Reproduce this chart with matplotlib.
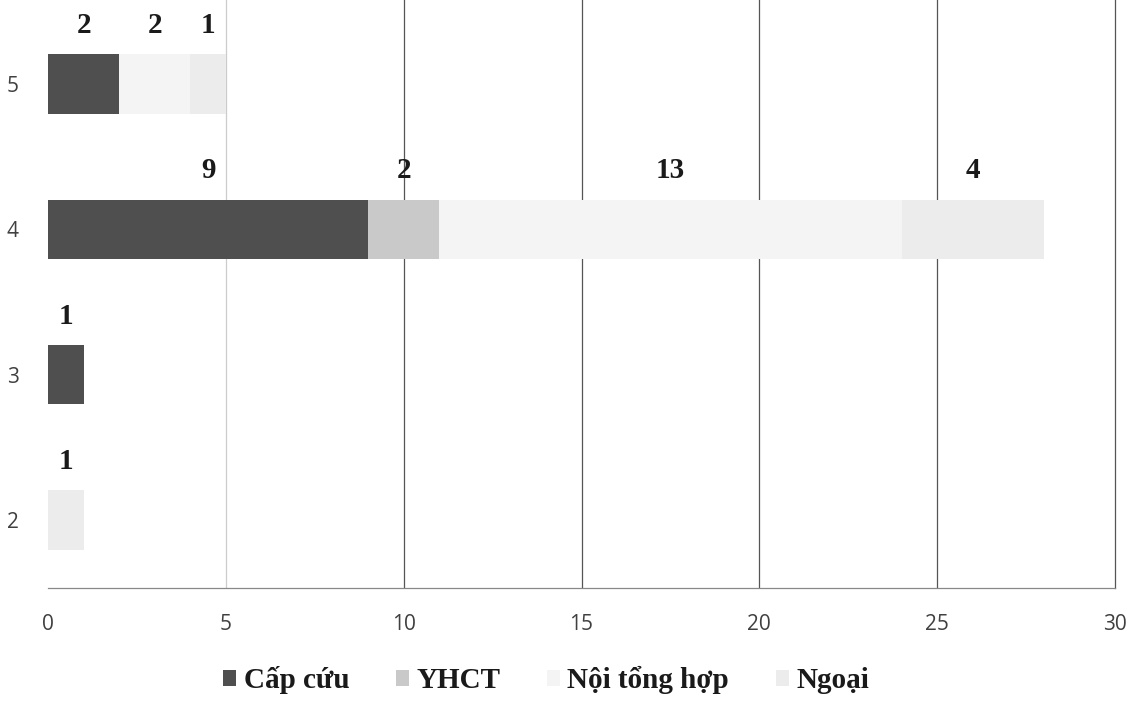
import numpy as np
import matplotlib
matplotlib.use('Agg')
import matplotlib.pyplot as plt
from matplotlib.patches import Patch

# số ca theo mức độ (2..5) và theo khoa
levels = [2, 3, 4, 5]
cap_cuu = [0, 1, 9, 2]
yhct = [0, 0, 2, 0]
noi_tong_hop = [0, 0, 13, 2]
ngoai = [1, 0, 4, 1]

series = [('Cấp cứu', cap_cuu, '#4f4f4f'),
          ('YHCT', yhct, '#c9c9c9'),
          ('Nội tổng hợp', noi_tong_hop, '#f4f4f4'),
          ('Ngoại', ngoai, '#ececec')]

fig = plt.figure(figsize=(11.35, 7.04), dpi=100)
ax = fig.add_axes([48/1135, 1 - 588/704, (1115 - 48)/1135, 588/704])

bar_h = 0.41
left = np.zeros(len(levels))
for name, vals, col in series:
    vals = np.array(vals, dtype=float)
    ax.barh(levels, vals, left=left, height=bar_h, color=col,
            edgecolor='none', label=name, zorder=2)
    for y, l, v in zip(levels, left, vals):
        if v > 0:
            ax.annotate('%d' % v, xy=(l + v / 2, y + bar_h / 2),
                        xytext=(0, 11), textcoords='offset points',
                        ha='center', va='bottom', fontsize=21,
                        fontweight='bold', family='Liberation Serif',
                        color='#1a1a1a')
    left += vals

ax.set_xlim(0, 30)
ax.set_ylim(1.532, 5.578)
ax.set_xticks([0, 5, 10, 15, 20, 25, 30])
ax.set_yticks(levels)
ax.tick_params(length=0, labelcolor='#404040')
ax.tick_params(axis='x', pad=19)
ax.tick_params(axis='y', pad=21)
for lab in ax.get_xticklabels() + ax.get_yticklabels():
    lab.set_family('Open Sans')
    lab.set_fontsize(15)

ax.grid(axis='x', color='#555555', linewidth=0.9, zorder=0)
gl = ax.get_xgridlines()
gl[0].set_visible(False)
gl[1].set_color('#cccccc')
gl[-1].set_clip_on(False)
for s in ['top', 'right', 'left']:
    ax.spines[s].set_visible(False)
ax.spines['bottom'].set_color('#888888')
ax.spines['bottom'].set_linewidth(0.9)

handles = [Patch(facecolor=c, edgecolor='none') for _, _, c in series]
fig.legend(handles, [n for n, _, _ in series], loc='center',
           bbox_to_anchor=(546/1135, 1 - 680/704), ncol=4, frameon=False,
           prop={'family': 'Liberation Serif', 'weight': 'bold', 'size': 21},
           handlelength=0.45, handleheight=0.45, handletextpad=0.25,
           columnspacing=1.6, labelcolor='#1a1a1a')

fig.savefig('out.png', dpi=100, facecolor='white')
